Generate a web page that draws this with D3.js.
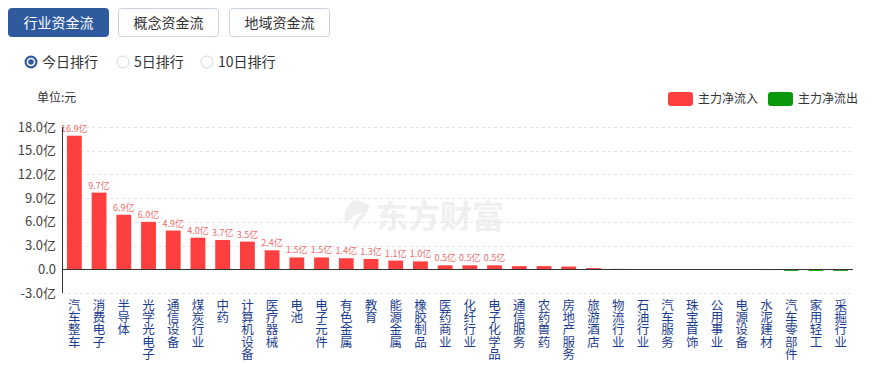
<!DOCTYPE html>
<html>
<head>
<meta charset="utf-8">
<script src="https://cdn.jsdelivr.net/npm/d3@7"></script>
<style>
  body { margin: 0; background: #fff; font-family: "Noto Sans CJK SC", "Microsoft YaHei", sans-serif; }
  #chart { width: 881px; height: 367px; }
</style>
</head>
<body>
<div id="chart"></div>
<script>
const tabs = ["行业资金流", "概念资金流", "地域资金流"];
const ranks = ["今日排行", "5日排行", "10日排行"];
const legendNames = ["主力净流入", "主力净流出"];

const categories = [
  "汽车整车", "消费电子", "半导体", "光学光电子", "通信设备", "煤炭行业", "中药", "计算机设备",
  "医疗器械", "电池", "电子元件", "有色金属", "教育", "能源金属", "橡胶制品", "医药商业",
  "化纤行业", "电子化学品", "通信服务", "农药兽药", "房地产服务", "旅游酒店", "物流行业", "石油行业",
  "汽车服务", "珠宝首饰", "公用事业", "电源设备", "水泥建材", "汽车零部件", "家用轻工", "采掘行业"
];
// 主力净流入, 单位: 亿元
const values = [
  16.9, 9.7, 6.9, 6.0, 4.9, 4.0, 3.7, 3.5,
  2.4, 1.5, 1.5, 1.4, 1.3, 1.1, 1.0, 0.5,
  0.5, 0.5, 0.4, 0.4, 0.35, 0.15, 0.05, 0.03,
  0.01, 0.01, -0.01, -0.01, -0.1, -0.2, -0.2, -0.2
];
const yTicks = [-3, 0, 3, 6, 9, 12, 15, 18];

const width = 881;
const height = 367;
const red = "#fd3f3f";
const green = "#0a990a";
const blue = "#2f5a9e";

const svg = d3.select("#chart").append("svg")
  .attr("width", width)
  .attr("height", height);

// tabs
const tabX = [8, 118, 229];
tabs.forEach((t, i) => {
  const g = svg.append("g").attr("transform", `translate(${tabX[i]},8)`);
  g.append("rect")
    .attr("x", 0.5).attr("y", 0.5)
    .attr("width", 100).attr("height", 28)
    .attr("rx", 3)
    .attr("fill", i === 0 ? blue : "#fff")
    .attr("stroke", i === 0 ? blue : "#c9d3de");
  g.append("text")
    .attr("x", 50.5).attr("y", 19.5)
    .attr("text-anchor", "middle")
    .attr("font-size", 14)
    .attr("fill", i === 0 ? "#fff" : "#333")
    .text(t);
});

// radios
const radioX = [31, 123, 207];
ranks.forEach((t, i) => {
  const g = svg.append("g").attr("transform", `translate(${radioX[i]},62)`);
  if (i === 0) {
    g.append("circle").attr("r", 6.5).attr("fill", blue);
    g.append("circle").attr("r", 4.3).attr("fill", "#fff");
    g.append("circle").attr("r", 2.8).attr("fill", blue);
  } else {
    g.append("circle").attr("r", 6).attr("fill", "#fff").attr("stroke", "#d0d7df");
  }
  g.append("text")
    .attr("x", 11).attr("y", 5)
    .attr("font-size", 14)
    .attr("fill", "#333")
    .text(t);
});

// unit
svg.append("text")
  .attr("x", 37).attr("y", 102)
  .attr("font-size", 12)
  .attr("fill", "#333")
  .text("单位:元");

// legend
const legendX = [668, 768];
legendNames.forEach((n, i) => {
  svg.append("rect")
    .attr("x", legendX[i]).attr("y", 92)
    .attr("width", 25).attr("height", 14)
    .attr("rx", 3)
    .attr("fill", i === 0 ? red : green);
  svg.append("text")
    .attr("x", legendX[i] + 30).attr("y", 103)
    .attr("font-size", 12)
    .attr("fill", "#333")
    .text(n);
});

// watermark
const wm = svg.append("g").attr("transform", "translate(340,198)").attr("fill", "#efefef");
wm.append("path")
  .attr("d", "M14,2 C6,8 2,16 6,26 C10,20 16,16 24,14 C16,20 12,26 14,32 C20,24 26,18 30,8 C24,4 18,2 14,2 Z");
wm.append("text")
  .attr("x", 36).attr("y", 30)
  .attr("font-size", 32)
  .attr("font-weight", "bold")
  .text("东方财富");

// scales
const x = d3.scaleBand()
  .domain(categories)
  .range([62, 853])
  .paddingInner(0.4)
  .paddingOuter(0.2);

const y = d3.scaleLinear()
  .domain([-3, 18])
  .range([293, 127]);

// grid
svg.append("g")
  .selectAll("line")
  .data(yTicks.filter(d => d !== 0))
  .join("line")
  .attr("x1", 62).attr("x2", 853)
  .attr("y1", d => Math.round(y(d)) + 0.5)
  .attr("y2", d => Math.round(y(d)) + 0.5)
  .attr("stroke", "#e3e3e3")
  .attr("stroke-dasharray", "3,3");

// y tick labels
svg.append("g")
  .selectAll("text")
  .data(yTicks)
  .join("text")
  .attr("x", 56)
  .attr("y", d => y(d) + 4.5)
  .attr("text-anchor", "end")
  .attr("font-size", 13)
  .attr("fill", "#444")
  .text(d => d === 0 ? "0.0" : d.toFixed(1) + "亿");

// bars
svg.append("g")
  .selectAll("rect")
  .data(values)
  .join("rect")
  .attr("x", (d, i) => x(categories[i]))
  .attr("width", x.bandwidth())
  .attr("y", d => d >= 0 ? y(d) : y(0))
  .attr("height", d => Math.abs(y(d) - y(0)))
  .attr("fill", d => d >= 0 ? red : green);

// bar labels
svg.append("g")
  .selectAll("text")
  .data(values.map((v, i) => ({ v, c: categories[i] })).filter(d => d.v >= 0.5))
  .join("text")
  .attr("x", d => x(d.c) + x.bandwidth() / 2)
  .attr("y", d => y(d.v) - 4)
  .attr("text-anchor", "middle")
  .attr("font-size", 9)
  .attr("fill", "#ee6b6b")
  .text(d => d.v.toFixed(1) + "亿");

// axes lines
svg.append("line")
  .attr("x1", 62.5).attr("x2", 62.5)
  .attr("y1", 127).attr("y2", 293)
  .attr("stroke", "#333");
svg.append("line")
  .attr("x1", 62).attr("x2", 853)
  .attr("y1", Math.round(y(0)) + 0.5)
  .attr("y2", Math.round(y(0)) + 0.5)
  .attr("stroke", "#333");

// x labels, vertical
svg.append("g")
  .selectAll("text")
  .data(categories)
  .join("text")
  .attr("x", d => x(d) + x.bandwidth() / 2)
  .attr("y", 299)
  .attr("font-size", 12.5)
  .attr("fill", "#1d3e8e")
  .style("writing-mode", "vertical-rl")
  .style("text-orientation", "upright")
  .style("letter-spacing", "-0.3px")
  .text(d => d);
</script>
</body>
</html>
